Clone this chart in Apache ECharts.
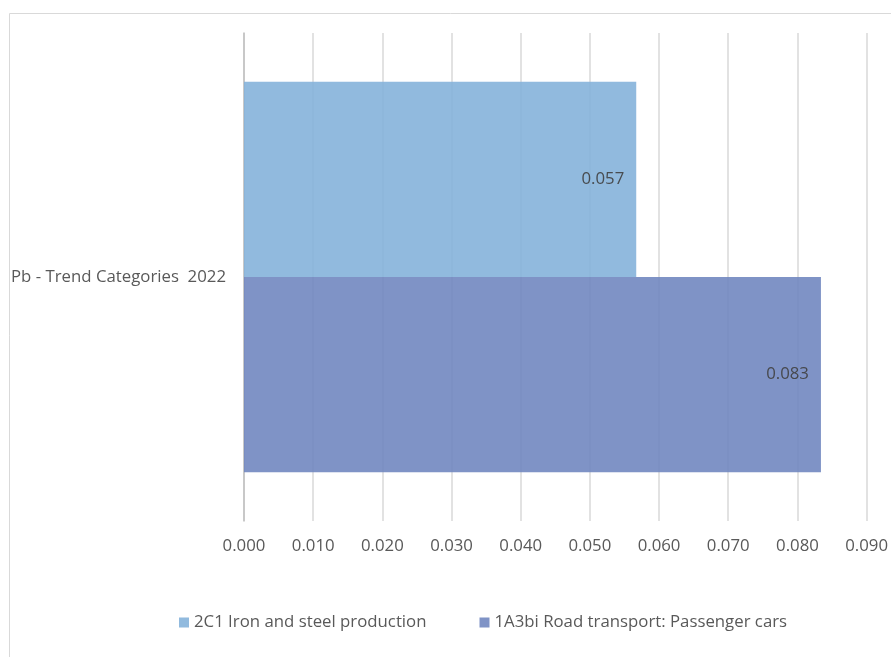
<!DOCTYPE html>
<html>
<head>
<meta charset="utf-8">
<script src="https://cdn.jsdelivr.net/npm/echarts@6/dist/echarts.min.js"></script>
<style>html,body{margin:0;padding:0;background:#fff;}#c{width:891px;height:657px;}</style>
</head>
<body>
<div id="c"></div>
<script>
const categories = ['Pb - Trend Categories  2022'];
const seriesNames = ['2C1 Iron and steel production', '1A3bi Road transport: Passenger cars'];
const ironSteel = [0.0567];
const passengerCars = [0.0834];
const xTicks = { min: 0, max: 0.09, interval: 0.01 };

const FONT = 'Open Sans';
const FS = 16.8;
const chart = echarts.init(document.getElementById('c'));
chart.setOption({
  animation: false,
  textStyle: { fontFamily: FONT },
  graphic: [{
    type: 'rect', left: 7, top: 11, shape: { width: 920, height: 700 },
    style: { fill: 'none', stroke: '#d9d9d9', lineWidth: 1 }, silent: true, z: -10
  }],
  legend: {
    left: 174, top: 609, itemWidth: 10, itemHeight: 10, itemGap: 53,
    icon: 'rect',
    data: seriesNames,
    textStyle: { color: '#595959', fontSize: FS, fontFamily: FONT }
  },
  grid: { left: 244, right: 23, top: 33, bottom: 136, containLabel: false },
  xAxis: {
    type: 'value', min: xTicks.min, max: xTicks.max, interval: xTicks.interval,
    axisLine: { show: false }, axisTick: { show: false },
    splitLine: { show: true, lineStyle: { color: '#d9d9d9', width: 1.5 } },
    axisLabel: { color: '#595959', fontSize: FS, margin: 17, formatter: v => v.toFixed(3) }
  },
  yAxis: {
    type: 'category', data: categories,
    axisLine: { show: true, lineStyle: { color: '#bfbfbf', width: 1.5 } },
    axisTick: { show: false },
    axisLabel: { color: '#595959', fontSize: FS, margin: 18 }
  },
  series: [
    {
      name: seriesNames[0], type: 'bar', data: ironSteel,
      barGap: '0%', barCategoryGap: '20%',
      itemStyle: { color: '#85B2DA', opacity: 0.9 },
      label: { show: true, position: 'insideRight', distance: 12, color: '#404040', fontSize: FS, formatter: p => p.value.toFixed(3) }
    },
    {
      name: seriesNames[1], type: 'bar', data: passengerCars,
      barGap: '0%', barCategoryGap: '20%',
      itemStyle: { color: '#7187C0', opacity: 0.9 },
      label: { show: true, position: 'insideRight', distance: 12, color: '#404040', fontSize: FS, formatter: p => p.value.toFixed(3) }
    }
  ]
});
</script>
</body>
</html>
